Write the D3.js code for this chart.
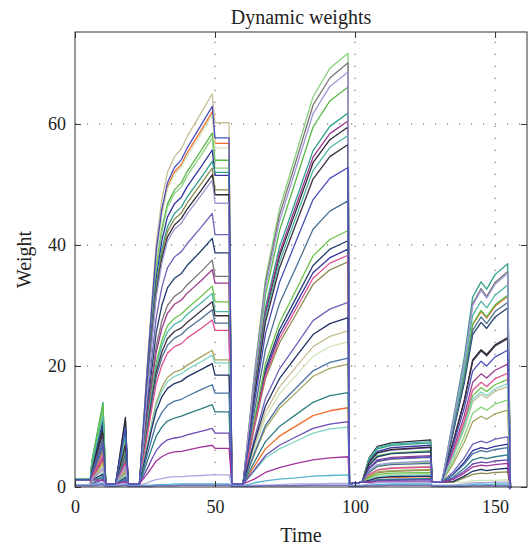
<!DOCTYPE html>
<html>
<head>
<meta charset="utf-8">
<script src="https://cdn.jsdelivr.net/npm/d3@7"></script>
<style>
  body { margin: 0; background: #fff; }
  text { font-family: "Liberation Serif", "DejaVu Serif", serif; fill: #222; }
</style>
</head>
<body>
<svg id="weights_plot" width="531" height="549"></svg>
<script>
// sample times shared by every series
const times = [0, 5.5, 6, 10, 11, 14.5, 18, 19,
  23, 26, 27.5, 29, 31, 33, 35.5, 38, 40, 45, 49, 50, 55, 56,
  60, 64, 68, 73, 79, 85, 91, 97.5, 98, 102.5, 105, 108, 113, 127, 127.5,
  131, 135, 139, 142, 145, 147, 150, 154.5, 155.5];

// weights, one array per line
const w01 = [1.2,1.2,1.2,2.8,0.5, 0.5,3.0,0.5, 0.5,21.5,31.2,40.3,47.5,52.0,54.6,55.9,57.9,61.8,65.0, 60.2,60.2,0.5, 0.5,6.7,12.4,16.5,19.9,23.2,24.9,25.8,0.5, 0.8,2.1,2.9,3.2,3.4,0.8, 0.8,5.0,9.6,14.1,15.3,14.7,15.8,16.6,-0.2];
const w02 = [1.2,1.2,2.1,7.0,0.5, 0.5,9.8,0.5, 0.5,20.8,30.2,39.0,45.9,50.3,52.8,54.1,56.0,59.8,62.9, 57.7,57.7,0.5, 0.5,13.7,25.3,33.8,40.7,47.5,51.0,52.8,0.5, 0.8,3.1,4.3,4.7,5.0,0.8, 0.8,6.8,13.1,19.2,20.8,20.0,21.5,22.6,-0.2];
const w03 = [0.4,0.4,1.3,4.4,0.5, 0.5,2.4,0.5, 0.5,20.5,29.8,38.4,45.3,49.6,52.1,53.3,55.2,58.9,62.0, 56.8,56.8,0.5, 0.5,3.4,6.3,8.4,10.1,11.8,12.6,13.1,0.5, 0.8,1.1,1.5,1.6,1.7,0.8, 0.8,9.5,18.3,26.8,29.0,27.9,29.9,31.5,-0.2];
const w04 = [1.2,1.2,1.2,3.5,0.5, 0.5,1.9,0.5, 0.5,20.3,29.5,38.1,44.9,49.2,51.7,52.9,54.7,58.4,61.5, 56.0,56.0,0.5, 0.5,6.2,11.5,15.4,18.5,21.6,23.2,24.0,0.5, 0.8,1.4,1.9,2.1,2.2,0.8, 0.8,0.8,0.8,1.0,1.1,1.1,1.1,1.2,-0.2];
const w05 = [1.3,1.3,4.0,13.2,0.5, 0.5,8.0,0.5, 0.5,19.3,28.1,36.3,42.7,46.8,49.1,50.3,52.1,55.6,58.5, 54.0,54.0,0.5, 0.5,17.2,31.7,42.3,50.9,59.5,63.8,66.1,0.5, 0.8,3.7,5.2,5.6,6.0,0.8, 0.8,9.5,18.4,26.9,29.2,28.1,30.1,31.7,-0.2];
const w06 = [1.3,1.3,3.8,12.5,0.5, 0.5,7.5,0.5, 0.5,19.0,27.7,35.8,42.1,46.2,48.5,49.6,51.4,54.8,57.7, 52.7,52.7,0.5, 0.5,18.6,34.4,45.9,55.2,64.5,69.2,71.7,0.5, 0.8,2.5,3.5,3.9,4.1,0.8, 0.8,4.3,8.4,12.2,13.2,12.7,13.7,14.4,-0.2];
const w07 = [0.4,0.4,3.1,10.3,0.5, 0.5,11.0,0.5, 0.5,18.4,26.7,34.5,40.7,44.6,46.8,47.9,49.6,52.9,55.7, 51.5,51.5,0.5, 0.5,10.2,18.9,25.2,30.3,35.4,37.9,39.3,0.5, 0.8,4.3,5.9,6.5,6.9,0.8, 0.8,2.1,4.1,6.0,6.5,6.3,6.7,7.1,-0.2];
const w08 = [1.3,1.3,4.2,14.0,0.5, 0.5,10.4,0.5, 0.5,17.8,25.8,33.4,39.3,43.0,45.2,46.3,47.9,51.1,53.8, 52.0,52.0,0.5, 0.5,16.1,29.7,39.6,47.6,55.6,59.6,61.8,0.5, 0.8,4.5,6.3,6.9,7.3,0.8, 0.8,11.1,21.4,31.4,33.9,32.7,35.1,36.9,-0.2];
const w09 = [0.4,0.4,1.8,5.9,0.5, 0.5,4.6,0.5, 0.5,17.4,25.3,32.7,38.5,42.2,44.3,45.3,46.9,50.1,52.7, 49.1,49.1,0.5, 0.5,9.7,17.9,23.8,28.6,33.5,35.9,37.2,0.5, 0.8,1.7,2.4,2.6,2.8,0.8, 0.8,0.8,1.5,2.1,2.3,2.2,2.4,2.5,-0.2];
const w10 = [1.2,1.2,2.9,9.6,0.5, 0.5,11.5,0.5, 0.5,17.0,24.8,32.0,37.7,41.3,43.3,44.4,45.9,49.0,51.6, 48.3,48.3,0.5, 0.5,15.5,28.6,38.1,45.8,53.6,57.4,59.5,0.5, 0.8,4.8,6.7,7.3,7.8,0.8, 0.8,7.4,14.3,21.0,22.7,21.9,23.5,24.7,-0.2];
const w11 = [1.2,1.2,1.2,3.1,0.5, 0.5,3.4,0.5, 0.5,16.7,24.3,31.4,37.0,40.6,42.6,43.6,45.1,48.2,50.7, 46.9,46.9,0.5, 0.5,17.8,32.9,43.9,52.8,61.7,66.2,68.6,0.5, 0.8,2.7,3.7,4.0,4.3,0.8, 0.8,10.6,20.5,30.0,32.5,31.2,33.5,35.3,-0.2];
const w12 = [0.4,0.4,2.4,8.1,0.5, 0.5,6.4,0.5, 0.5,14.9,21.7,28.0,33.0,36.2,38.0,38.9,40.2,42.9,45.2, 41.7,41.7,0.5, 0.5,7.9,14.6,19.5,23.5,27.5,29.4,30.5,0.5, 0.8,4.0,5.6,6.1,6.5,0.8, 0.8,2.5,4.8,7.1,7.6,7.3,7.9,8.3,-0.2];
const w13 = [1.2,1.2,3.3,11.0,0.5, 0.5,9.3,0.5, 0.5,13.6,19.7,25.5,30.0,32.9,34.5,35.3,36.6,39.0,41.1, 38.7,38.7,0.5, 0.5,10.6,19.5,26.0,31.3,36.6,39.3,40.7,0.5, 0.8,3.6,5.0,5.5,5.8,0.8, 0.8,8.9,17.2,25.2,27.2,26.2,28.1,29.6,-0.2];
const w14 = [0.4,0.4,1.9,6.4,0.5, 0.5,5.0,0.5, 0.5,12.4,18.0,23.3,27.4,30.0,31.5,32.3,33.4,35.6,37.5, 34.8,34.8,0.5, 0.5,18.2,33.6,44.9,54.0,63.1,67.6,70.1,0.5, 0.8,3.0,4.2,4.6,4.9,0.8, 0.8,10.7,20.6,30.3,32.8,31.5,33.8,35.6,-0.2];
const w15 = [1.2,1.2,1.4,4.8,0.5, 0.5,4.1,0.5, 0.5,11.8,17.2,22.3,26.2,28.7,30.2,30.9,32.0,34.1,35.9, 33.7,33.7,0.5, 0.5,15.7,29.0,38.7,46.6,54.5,58.4,60.5,0.5, 0.8,3.2,4.5,4.9,5.2,0.8, 0.8,6.1,11.8,17.3,18.7,18.0,19.3,20.3,-0.2];
const w16 = [1.3,1.3,4.1,13.6,0.5, 0.5,5.9,0.5, 0.5,11.0,15.9,20.6,24.2,26.6,27.9,28.6,29.5,31.5,33.2, 30.6,30.6,0.5, 0.5,11.0,20.4,27.1,32.6,38.2,40.9,42.4,0.5, 0.8,1.5,2.1,2.3,2.4,0.8, 0.8,5.3,10.3,15.1,16.4,15.8,16.9,17.8,-0.2];
const w17 = [1.3,1.3,3.5,11.8,0.5, 0.5,8.6,0.5, 0.5,10.6,15.4,19.8,23.4,25.6,26.9,27.5,28.5,30.4,32.0, 29.0,29.0,0.5, 0.5,15.1,27.9,37.2,44.7,52.3,56.1,58.1,0.5, 0.8,4.7,6.5,7.1,7.5,0.8, 0.8,10.0,19.4,28.4,30.7,29.6,31.7,33.4,-0.2];
const w18 = [0.4,0.4,2.7,8.9,0.5, 0.5,7.0,0.5, 0.5,10.1,14.7,19.0,22.3,24.5,25.7,26.3,27.2,29.1,30.6, 28.3,28.3,0.5, 0.5,14.7,27.2,36.2,43.6,50.9,54.6,56.6,0.5, 0.8,4.1,5.7,6.2,6.6,0.8, 0.8,7.4,14.2,20.8,22.5,21.7,23.3,24.5,-0.2];
const w19 = [1.2,1.2,2.3,7.6,0.5, 0.5,5.5,0.5, 0.5,9.7,14.1,18.2,21.4,23.4,24.6,25.2,26.1,27.8,29.3, 27.1,27.1,0.5, 0.5,12.3,22.7,30.3,36.4,42.6,45.6,47.3,0.5, 0.8,2.4,3.4,3.7,3.9,0.8, 0.8,9.2,17.7,25.9,28.1,27.0,29.0,30.5,-0.2];
const w20 = [0.4,0.4,1.6,5.3,0.5, 0.5,3.8,0.5, 0.5,9.1,13.2,17.1,20.1,22.1,23.2,23.7,24.6,26.2,27.6, 25.9,25.9,0.5, 0.5,10.0,18.4,24.5,29.5,34.5,37.0,38.3,0.5, 0.8,2.0,2.8,3.1,3.3,0.8, 0.8,5.6,10.9,16.0,17.3,16.6,17.9,18.8,-0.2];
const w21 = [1.2,1.2,1.2,3.9,0.5, 0.5,2.7,0.5, 0.5,7.5,10.8,14.0,16.5,18.1,19.0,19.4,20.1,21.5,22.6, 21.0,21.0,0.5, 0.5,5.3,9.7,13.0,15.6,18.3,19.6,20.3,0.5, 0.8,1.8,2.5,2.7,2.9,0.8, 0.8,3.8,7.4,10.8,11.7,11.2,12.1,12.7,-0.2];
const w22 = [0.4,0.4,0.7,2.4,0.5, 0.5,2.1,0.5, 0.5,7.2,10.5,13.5,15.9,17.4,18.3,18.7,19.4,20.7,21.8, 20.5,20.5,0.5, 0.5,2.6,4.8,6.3,7.6,8.9,9.6,9.9,0.5, 0.8,1.2,1.7,1.9,2.0,0.8, 0.8,5.1,9.9,14.5,15.7,15.1,16.2,17.1,-0.2];
const w23 = [1.2,1.2,1.2,2.1,0.5, 0.5,1.6,0.5, 0.5,6.7,9.8,12.6,14.9,16.3,17.1,17.5,18.2,19.4,20.4, 18.5,18.5,0.5, 0.5,7.3,13.4,17.9,21.6,25.2,27.0,28.0,0.5, 0.8,1.1,1.5,1.7,1.8,0.8, 0.8,0.9,1.8,2.6,2.9,2.7,2.9,3.1,-0.2];
const w24 = [0.4,0.4,0.5,1.8,0.5, 0.5,1.4,0.5, 0.5,5.6,8.1,10.5,12.3,13.5,14.2,14.5,15.0,16.1,16.9, 15.5,15.5,0.5, 0.5,5.5,10.2,13.6,16.4,19.2,20.6,21.3,0.5, 0.8,0.9,1.2,1.3,1.4,0.8, 0.8,2.0,3.8,5.5,6.0,5.8,6.2,6.5,-0.2];
const w25 = [1.2,1.2,1.2,1.5,0.5, 0.5,1.2,0.5, 0.5,4.5,6.5,8.4,9.9,10.9,11.4,11.7,12.1,12.9,13.6, 12.4,12.4,0.5, 0.5,4.1,7.5,10.0,12.0,14.0,15.1,15.6,0.5, 0.8,0.8,1.1,1.2,1.3,0.8, 0.8,1.6,3.1,4.5,4.9,4.7,5.0,5.3,-0.2];
const w26 = [0.4,0.4,0.4,1.3,0.5, 0.5,1.0,0.5, 0.5,3.2,4.7,6.0,7.1,7.8,8.1,8.3,8.6,9.2,9.7, 8.9,8.9,0.5, 0.5,2.8,5.2,6.9,8.3,9.7,10.4,10.8,0.5, 0.8,0.8,1.0,1.1,1.2,0.8, 0.8,1.4,2.6,3.8,4.1,4.0,4.3,4.5,-0.2];
const w27 = [1.2,1.2,1.2,1.1,0.5, 0.5,0.8,0.5, 0.5,2.3,3.3,4.3,5.0,5.5,5.8,5.9,6.1,6.6,6.9, 6.4,6.4,0.5, 0.5,1.3,2.4,3.2,3.9,4.5,4.8,5.0,0.5, 0.8,0.8,0.8,0.9,0.9,0.8, 0.8,1.2,2.3,3.3,3.6,3.5,3.7,3.9,-0.2];
const w28 = [0.4,0.4,0.4,0.9,0.3, 0.3,0.6,0.3, 0.3,0.7,1.0,1.2,1.4,1.6,1.7,1.7,1.8,1.9,2.0, 2.0,2.0,0.3, 0.3,0.3,0.3,0.4,0.5,0.5,0.6,0.6,0.3, 0.3,0.5,0.7,0.8,0.8,0.3, 0.3,0.3,0.5,0.7,0.7,0.7,0.8,0.8,-0.2];
const w29 = [0.3,0.3,0.3,0.6,0.2, 0.2,0.4,0.2, 0.2,0.3,0.3,0.4,0.4,0.4,0.5,0.5,0.5,0.5,0.5, 0.5,0.5,0.2, 0.2,0.7,1.0,1.3,1.5,1.8,1.9,2.0,0.2, 0.2,0.3,0.4,0.5,0.5,0.2, 0.2,0.2,0.3,0.4,0.5,0.4,0.5,0.5,-0.2];
const w30 = [0.2,0.2,0.2,0.4,0.1, 0.1,0.3,0.1, 0.1,0.1,0.1,0.2,0.2,0.2,0.2,0.3,0.3,0.3,0.3, 0.3,0.3,0.1, 0.1,0.1,0.2,0.2,0.2,0.3,0.3,0.3,0.1, 0.1,0.2,0.2,0.3,0.3,0.1, 0.1,0.1,0.1,0.2,0.2,0.2,0.2,0.2,-0.4];

// drawing order, last one ends up on top
const weight_series = [w01, w03, w04, w05, w06, w07, w08, w09, w10, w12, w13, w14, w15, w16, w17,
  w18, w19, w20, w21, w22, w23, w24, w25, w26, w27, w28, w29, w11, w02, w30];
const line_colors = ["#c8bd96", "#f26d2d", "#cfe3b8", "#58b947", "#8ad17e", "#3434a0", "#2e9f8a", "#8d8a4e",
  "#2c2733", "#6d64ba", "#213d6f", "#7d7376", "#9b3a90", "#6cc24a", "#4cb5a5",
  "#3b2f40", "#4b6e8e", "#e0508e", "#a6a45f", "#7fd4c1", "#1f2f64", "#4772a2", "#2f7d83", "#6a4ab2",
  "#a2329c", "#aaa8dc", "#56b5cc", "#9f98d6", "#4a4fb8", "#7672c4"];

const x_ticks = [0, 50, 100, 150];
const y_ticks = [0, 20, 40, 60];
const x_range = [0, 161.4];
const y_range = [0, 75.2];

let svg = d3.select("#weights_plot");
let left = 75, right = 527, top_ = 32, bottom = 487;

let x = d3.scaleLinear().domain(x_range).range([left, right]);
let y = d3.scaleLinear().domain(y_range).range([bottom, top_]);

// grid, dotted
let grid = svg.append("g").attr("stroke", "#555").attr("stroke-width", 1)
              .attr("stroke-dasharray", "1.2,10.8");
grid.selectAll(".gx").data(x_ticks.filter(d => d > 0)).enter().append("line")
    .attr("x1", d => x(d)).attr("x2", d => x(d))
    .attr("y1", bottom).attr("y2", top_);
grid.selectAll(".gy").data(y_ticks.filter(d => d > 0)).enter().append("line")
    .attr("x1", left).attr("x2", right)
    .attr("y1", d => y(d)).attr("y2", d => y(d));

// weight lines
let line = d3.line()
             .x((d, i) => x(times[i]))
             .y(d => y(d));

svg.append("g").selectAll("path").data(weight_series).enter().append("path")
   .attr("d", d => line(d))
   .attr("fill", "none")
   .attr("stroke", (d, i) => line_colors[i])
   .attr("stroke-width", (d, i) => i == weight_series.length - 1 ? 1.6 : 1.3)
   .attr("stroke-linejoin", "round");

// axes, ticks pointing inward
svg.append("g").attr("transform", "translate(0," + bottom + ")")
   .call(d3.axisBottom(x).tickValues(x_ticks).tickSizeInner(-6).tickSizeOuter(0).tickPadding(13));
svg.append("g").attr("transform", "translate(" + left + ",0)")
   .call(d3.axisLeft(y).tickValues(y_ticks).tickSizeInner(-6).tickSizeOuter(0).tickPadding(9));
svg.append("g").attr("transform", "translate(0," + top_ + ")")
   .call(d3.axisTop(x).tickValues(x_ticks).tickSizeInner(-6).tickSizeOuter(0).tickFormat(""));
svg.append("g").attr("transform", "translate(" + right + ",0)")
   .call(d3.axisRight(y).tickValues(y_ticks).tickSizeInner(-6).tickSizeOuter(0).tickFormat(""));

svg.selectAll(".domain").remove();
svg.selectAll(".tick line").attr("stroke", "#333");
svg.selectAll(".tick text").attr("font-size", 18)
   .attr("font-family", "Liberation Serif, DejaVu Serif, serif").attr("fill", "#222");

svg.append("rect")
   .attr("x", left).attr("y", top_)
   .attr("width", right - left).attr("height", bottom - top_)
   .attr("fill", "none").attr("stroke", "#333").attr("stroke-width", 1);

// labels
svg.append("text").attr("x", (left + right) / 2).attr("y", 24)
   .attr("text-anchor", "middle").attr("font-size", 20).text("Dynamic weights");
svg.append("text").attr("x", (left + right) / 2).attr("y", 542)
   .attr("text-anchor", "middle").attr("font-size", 20).text("Time");
svg.append("text").attr("transform", "translate(31," + (top_ + bottom) / 2 + ") rotate(-90)")
   .attr("text-anchor", "middle").attr("font-size", 20).text("Weight");
</script>
</body>
</html>
